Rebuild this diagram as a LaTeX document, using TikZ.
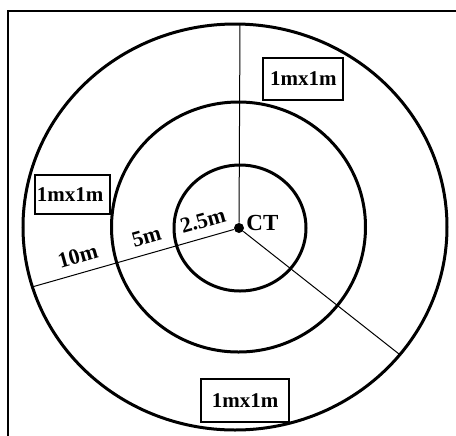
\documentclass[tikz,border=0pt]{standalone}
\usepackage{fontspec}
\setmainfont{Liberation Serif}
\usepackage{tikz}

\begin{document}
\begin{tikzpicture}[
  x=0.5pt, y=-0.5pt,
  ring/.style={
    draw=black,
    line width=1.5pt
  },
  spoke/.style={
    draw=black,
    line width=0.5pt
  },
  plotbox/.style={
    draw=black,
    line width=1pt,
    fill=white,
    font=\bfseries\fontsize{10.5}{12}\selectfont,
    inner xsep=1pt,
    inner ysep=0pt
  },
  dist/.style={
    font=\bfseries\fontsize{11}{12}\selectfont,
    inner sep=1pt,
    above=3.5pt,
    sloped
  },
  centredot/.style={
    circle,
    fill=black,
    inner sep=0pt,
    minimum size=5pt
  }
]

% Page and frame
\clip (0,0) rectangle (456,435);
\draw[line width=1pt] (8,11) rectangle (490,470);

% Rings
\draw[ring] (235,227) ellipse [x radius=212, y radius=203];
\draw[ring] (238.5,227) ellipse [x radius=127, y radius=125];
\draw[ring] (240,228) ellipse [x radius=66, y radius=63];

% Center
\node[centredot] (ct) at (239,228) {};
\node[font=\bfseries\fontsize{11.5}{12}\selectfont, anchor=base west, inner sep=0pt]
  (ctname) at (246,230) {CT};

% Ends of the spokes
\coordinate (north) at (240,24);
\coordinate (west) at (32,287);
\coordinate (southeast) at (399,354);

% Spokes
\draw[spoke] (ct) -- (north);
\draw[spoke] (ct) -- (southeast);
\draw[spoke] (ct) -- (west)
  node[dist, pos=0.13] (rinner) {2.5m}
  node[dist, pos=0.41] (rmiddle) {5m}
  node[dist, pos=0.75] (router) {10m};

% Plots
\node[plotbox, minimum width=40pt, minimum height=21pt]
  (plottop) at (303.3,79) {1mx1m};
\node[plotbox, minimum width=37.5pt, minimum height=19.5pt,
  text width=35.5pt, align=left]
  (plotleft) at (72.5,194.5) {1mx1m};
\node[plotbox, minimum width=44pt, minimum height=21.5pt]
  (plotbottom) at (245,400.5) {1mx1m};

\end{tikzpicture}
\end{document}
